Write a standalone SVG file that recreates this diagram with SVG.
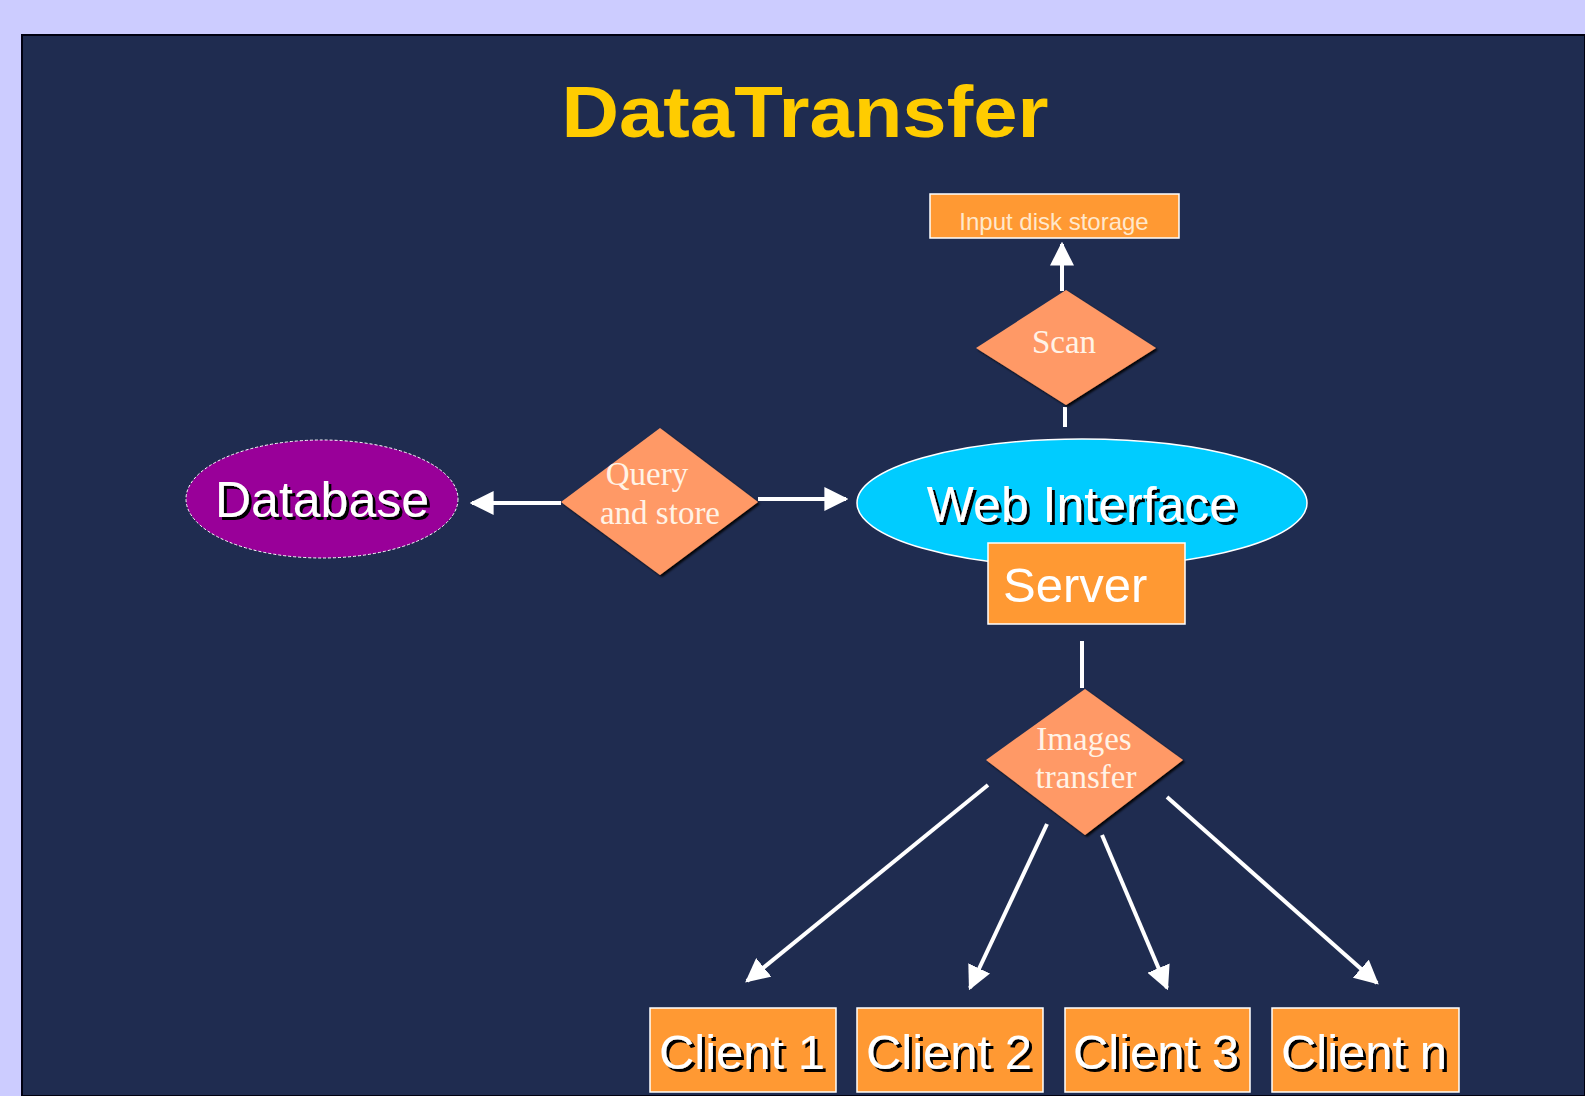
<svg xmlns="http://www.w3.org/2000/svg" width="1585" height="1096" viewBox="0 0 1585 1096">
<defs>
<style>
.conn{stroke:#FFFFFF;stroke-width:4;fill:none}
.dia{fill:#FF9966}
.box{fill:#FF9933;stroke:#FFFFFF;stroke-width:1.5}
.serif{font-family:"Liberation Serif","Times New Roman",serif;fill:#FFF3E6;font-size:33px;text-anchor:middle}
.sans{font-family:"Liberation Sans",Arial,sans-serif;fill:#FFFFFF}
.sh{filter:url(#tsh)}
</style>
<filter id="tsh" x="-10%" y="-20%" width="130%" height="150%">
<feDropShadow dx="3" dy="3" stdDeviation="0.4" flood-color="#000000" flood-opacity="1"/>
</filter>
<filter id="dsh" x="-10%" y="-10%" width="125%" height="125%">
<feDropShadow dx="2" dy="2" stdDeviation="1" flood-color="#000000" flood-opacity="0.9"/>
</filter>
<marker id="ah" viewBox="0 0 10 10" refX="9" refY="5" markerWidth="6" markerHeight="6" markerUnits="strokeWidth" orient="auto">
<path d="M0,0 L10,5 L0,10 z" fill="#FFFFFF"/>
</marker>
</defs>
<rect x="0" y="0" width="1585" height="1096" fill="#CCCCFF"/>
<rect x="22" y="35" width="1563" height="1061" fill="#1F2C50" stroke="#000010" stroke-width="2"/>
<text x="805" y="137" font-family="'Liberation Sans',Arial,sans-serif" font-weight="bold" font-size="72" fill="#FFCC00" text-anchor="middle" textLength="487" lengthAdjust="spacingAndGlyphs">DataTransfer</text>

<g id="connectors">
<line class="conn" x1="1062" y1="291" x2="1062" y2="244" marker-end="url(#ah)"/>
<line class="conn" x1="1065" y1="407" x2="1065" y2="427"/>
<line class="conn" x1="561" y1="503" x2="472" y2="503" marker-end="url(#ah)"/>
<line class="conn" x1="758" y1="499" x2="846" y2="499" marker-end="url(#ah)"/>
<line class="conn" x1="1082" y1="641" x2="1082" y2="688"/>
<line class="conn" x1="988" y1="785" x2="747" y2="981" marker-end="url(#ah)"/>
<line class="conn" x1="1047" y1="824" x2="970" y2="988" marker-end="url(#ah)"/>
<line class="conn" x1="1102" y1="835" x2="1167" y2="988" marker-end="url(#ah)"/>
<line class="conn" x1="1167" y1="797" x2="1377" y2="983" marker-end="url(#ah)"/>
</g>

<g id="input-disk-storage">
<rect class="box" x="930" y="194" width="249" height="44"/>
<text class="sans" x="1054" y="230" font-size="24" fill="#FFE8CC" style="fill:#FFE8CC" text-anchor="middle">Input disk storage</text>
</g>

<g id="scan">
<polygon class="dia" points="1066,290 1156,348 1066,405 976,348" filter="url(#dsh)"/>
<text class="serif" x="1064" y="353">Scan</text>
</g>

<g id="database">
<ellipse cx="322" cy="499" rx="136" ry="59" fill="#990099" stroke="#FFFFFF" stroke-width="1" stroke-dasharray="3,2"/>
<text class="sans sh" x="322" y="517" font-size="50" text-anchor="middle">Database</text>
</g>

<g id="query-and-store">
<polygon class="dia" points="660,428 758,502 660,575 561,502" filter="url(#dsh)"/>
<text class="serif" x="647" y="485">Query</text>
<text class="serif" x="660" y="524">and store</text>
</g>

<g id="web-interface">
<ellipse cx="1082" cy="503" rx="225" ry="64" fill="#00CCFF" stroke="#FFFFFF" stroke-width="1.5"/>
<text class="sans sh" x="1082" y="522" font-size="50" text-anchor="middle">Web Interface</text>
</g>

<g id="server">
<rect class="box" x="988" y="543" width="197" height="81"/>
<text class="sans" x="1003" y="602" font-size="49">Server</text>
</g>

<g id="images-transfer">
<polygon class="dia" points="1085,689 1183,760 1085,835 986,760" filter="url(#dsh)"/>
<text class="serif" x="1084" y="750">Images</text>
<text class="serif" x="1086" y="788">transfer</text>
</g>

<g id="client-1">
<rect class="box" x="650" y="1008" width="186" height="84"/>
<text class="sans sh" x="742" y="1069" font-size="49" text-anchor="middle">Client 1</text>
</g>
<g id="client-2">
<rect class="box" x="857" y="1008" width="186" height="84"/>
<text class="sans sh" x="949" y="1069" font-size="49" text-anchor="middle">Client 2</text>
</g>
<g id="client-3">
<rect class="box" x="1065" y="1008" width="185" height="84"/>
<text class="sans sh" x="1156" y="1069" font-size="49" text-anchor="middle">Client 3</text>
</g>
<g id="client-n">
<rect class="box" x="1272" y="1008" width="187" height="84"/>
<text class="sans sh" x="1364" y="1069" font-size="49" text-anchor="middle">Client n</text>
</g>
</svg>
